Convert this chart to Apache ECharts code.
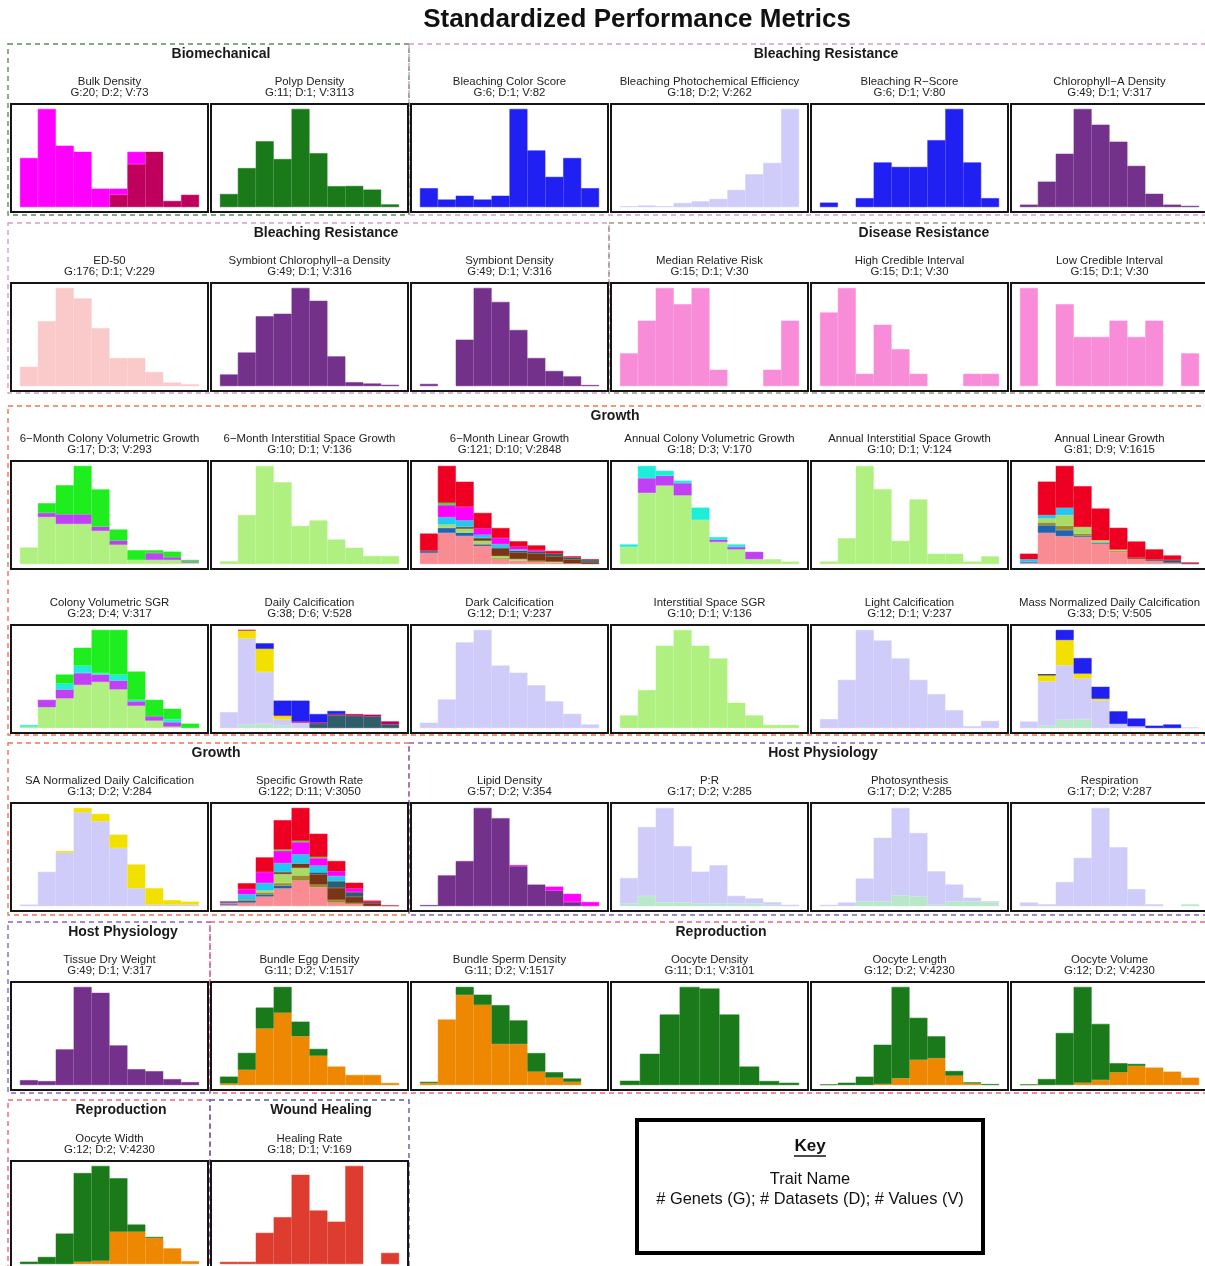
<!DOCTYPE html>
<html>
<head>
<meta charset="utf-8">
<title>Standardized Performance Metrics</title>
<script src="https://cdn.jsdelivr.net/npm/echarts@6/dist/echarts.min.js"></script>
<style>
  html, body { margin: 0; padding: 0; background: #ffffff; }
  #main { width: 1205px; height: 1266px; }
</style>
</head>
<body>
<div id="main"></div>
<script>
// ---------------------------------------------------------------------------
// Histogram counts per bin. Each trait lists its dataset layers bottom-first;
// the layer key names the fill colour used for that dataset.
// ---------------------------------------------------------------------------
const bulkDensity = { crimson: [0,0,0,0,0,2,7,9,1,2], magenta: [8,16,10,9,3,1,2,0,0,0] };
const polypDensity = { forest: [107,319,539,393,803,440,171,173,143,22] };
const bleachingColorScore = { blue: [5,2,3,2,3,26,15,8,13,5] };
const bleachingPhotochem = { lavender: [1,2,1,5,7,10,21,40,54,120] };
const bleachingRScore = { blue: [1,0,2,10,9,9,15,22,10,2] };
const chlorophyllA = { purple: [2,21,44,81,68,54,34,11,2,1] };

const ed50 = { blush: [11,37,56,50,33,16,16,8,2,1] };
const symbiontChlA = { purple: [9,26,54,56,76,66,23,3,2,1] };
const symbiontDensity = { purple: [2,0,43,91,78,52,26,14,9,1] };
const medianRelativeRisk = { pink: [2,4,6,5,6,1,0,0,1,4] };
const highCredible = { pink: [6,8,1,5,3,1,0,0,1,1] };
const lowCredible = { pink: [6,0,5,3,3,4,3,4,0,2] };

const sixMonthColonyVol = {
  lightGreen: [12,34,29,29,24,14,3,3,3,1],
  violet:     [0,3,7,7,3,3,0,5,2,1],
  green:      [0,7,21,35,27,8,7,2,4,1]
};
const sixMonthInterstitial = { lightGreen: [1,18,36,30,14,16,9,6,3,3] };
const sixMonthLinear = {
  salmon:  [88,242,218,140,36,26,16,10,5,0],
  navy:    [8,39,26,10,0,0,0,0,0,0],
  olive:   [0,0,0,10,10,0,10,0,0,0],
  yellowGreen: [0,26,31,21,16,13,0,8,0,0],
  brown:   [0,0,13,21,57,52,57,42,31,16],
  slate:   [8,0,0,0,10,13,16,21,16,16],
  cyan:    [0,57,52,26,26,10,0,0,0,0],
  magenta: [0,94,104,47,47,21,10,0,0,0],
  green:   [0,18,0,0,0,0,0,0,0,0],
  red:     [133,286,195,122,78,42,36,21,8,5]
};
const annualColonyVol = {
  lightGreen: [7,29,32,28,18,9,6,2,2,1],
  violet:     [0,6,4,5,0,1,1,3,0,0],
  turquoise:  [1,5,2,1,5,1,1,0,0,0]
};
const annualInterstitial = { lightGreen: [1,10,38,29,9,25,4,4,1,3] };
const annualLinear = {
  salmon: [5,123,110,107,81,48,21,13,5,0],
  navy:   [3,30,24,4,4,0,0,0,0,0],
  olive:  [0,11,17,9,0,4,0,0,0,0],
  yellowGreen: [0,16,42,26,9,5,0,0,0,0],
  brown:  [0,0,0,0,0,0,5,0,0,0],
  slate:  [0,0,0,0,0,0,0,5,11,3],
  cyan:   [11,13,29,0,0,0,0,0,0,0],
  red:    [22,132,165,161,125,86,63,40,18,3]
};

const colonyVolSGR = {
  lightGreen: [1,14,20,29,31,26,15,5,1,0],
  violet:     [0,5,6,8,5,6,3,3,3,0],
  turquoise:  [1,0,4,5,1,4,1,0,2,0],
  green:      [0,0,6,12,29,30,19,11,7,3]
};
const dailyCalcification = {
  mint:     [0,6,7,4,0,0,0,0,0,0],
  lavender: [26,141,85,10,9,0,0,0,0,0],
  slate:    [0,0,0,0,0,7,21,20,19,6],
  yellow:   [0,13,38,6,0,0,0,0,0,0],
  crimson:  [0,1,0,1,2,2,2,3,3,5],
  blue:     [0,0,9,24,34,14,5,0,0,0]
};
const darkCalcification = { lavender: [3,16,48,55,35,31,24,15,8,2] };
const interstitialSGR = { lightGreen: [4,12,26,31,26,22,8,4,1,1] };
const lightCalcification = { lavender: [5,27,55,49,39,27,19,10,1,4] };
const massNormCalcification = {
  mint:     [0,4,14,15,0,0,0,0,0,0],
  lavender: [11,74,91,68,46,7,3,0,0,1],
  yellow:   [0,10,42,8,3,0,0,0,0,0],
  ink:      [0,2,0,0,0,0,0,0,0,0],
  blue:     [0,0,17,26,20,21,13,4,6,0]
};

const saNormCalcification = {
  lavender: [1,23,36,63,57,39,12,1,1,1],
  yellow:   [0,0,1,3,5,9,16,11,3,2]
};
const specificGrowthRate = {
  salmon:  [10,26,72,133,192,141,26,13,0,0],
  navy:    [5,15,15,20,0,0,0,0,0,0],
  olive:   [0,10,15,20,38,20,20,10,0,0],
  yellowGreen: [0,0,15,67,56,0,0,0,0,0],
  brown:   [0,0,0,15,33,77,90,46,20,0],
  slate:   [0,0,0,0,0,15,51,36,5,0],
  cyan:    [10,38,56,67,69,51,38,0,0,0],
  magenta: [0,38,82,92,92,56,36,26,0,0],
  green:   [0,0,0,10,10,8,0,0,0,0],
  crimson: [0,0,0,0,0,0,0,0,8,0],
  red:     [10,44,110,220,246,174,77,44,8,5]
};
const lipidDensity = {
  purple:  [1,30,44,96,86,39,21,15,4,0],
  magenta: [0,0,0,0,0,1,0,4,8,4]
};
const pToR = {
  mint:     [2,8,3,3,2,2,2,2,1,0],
  lavender: [20,54,74,44,25,30,6,4,2,1]
};
const photosynthesis = {
  mint:     [0,0,4,4,9,8,1,4,4,3],
  lavender: [1,3,19,53,73,53,28,14,3,1]
};
const respiration = {
  mint:     [0,0,0,0,0,0,0,0,0,2],
  lavender: [4,2,27,54,110,66,19,2,0,0]
};

const tissueDryWeight = { purple: [5,4,36,99,93,40,16,14,6,3] };
const bundleEggDensity = {
  orange: [7,65,241,308,208,125,79,43,43,9],
  forest: [29,72,89,110,62,29,0,0,0,0]
};
const bundleSpermDensity = {
  orange: [7,219,301,268,137,137,45,25,11,0],
  forest: [4,0,27,34,130,79,62,18,11,0]
};
const oocyteDensity = { forest: [34,245,552,768,755,552,145,32,18] };
const oocyteLength = {
  orange: [0,0,0,15,100,375,400,140,25,0],
  forest: [10,35,125,585,1360,625,325,70,15,15]
};
const oocyteVolume = {
  orange: [0,0,0,35,75,190,285,260,200,110],
  forest: [10,90,775,1425,835,135,30,0,0,0]
};
const oocyteWidth = {
  orange: [0,0,0,25,35,340,340,275,165,30],
  forest: [25,75,320,930,995,560,75,10,0,0]
};
const healingRate = { brick: [1,1,14,21,40,24,19,44,0,5] };

// Trait names with genet / dataset / value counts, laid out row by row.
const traitRows = [
  [['Bulk Density', [20,2,73], bulkDensity],
   ['Polyp Density', [11,1,3113], polypDensity],
   ['Bleaching Color Score', [6,1,82], bleachingColorScore],
   ['Bleaching Photochemical Efficiency', [18,2,262], bleachingPhotochem],
   ['Bleaching R\u2212Score', [6,1,80], bleachingRScore],
   ['Chlorophyll\u2212A Density', [49,1,317], chlorophyllA]],
  [['ED-50', [176,1,229], ed50],
   ['Symbiont Chlorophyll\u2212a Density', [49,1,316], symbiontChlA],
   ['Symbiont Density', [49,1,316], symbiontDensity],
   ['Median Relative Risk', [15,1,30], medianRelativeRisk],
   ['High Credible Interval', [15,1,30], highCredible],
   ['Low Credible Interval', [15,1,30], lowCredible]],
  [['6\u2212Month Colony Volumetric Growth', [17,3,293], sixMonthColonyVol],
   ['6\u2212Month Interstitial Space Growth', [10,1,136], sixMonthInterstitial],
   ['6\u2212Month Linear Growth', [121,10,2848], sixMonthLinear],
   ['Annual Colony Volumetric Growth', [18,3,170], annualColonyVol],
   ['Annual Interstitial Space Growth', [10,1,124], annualInterstitial],
   ['Annual Linear Growth', [81,9,1615], annualLinear]],
  [['Colony Volumetric SGR', [23,4,317], colonyVolSGR],
   ['Daily Calcification', [38,6,528], dailyCalcification],
   ['Dark Calcification', [12,1,237], darkCalcification],
   ['Interstitial Space SGR', [10,1,136], interstitialSGR],
   ['Light Calcification', [12,1,237], lightCalcification],
   ['Mass Normalized Daily Calcification', [33,5,505], massNormCalcification]],
  [['SA Normalized Daily Calcification', [13,2,284], saNormCalcification],
   ['Specific Growth Rate', [122,11,3050], specificGrowthRate],
   ['Lipid Density', [57,2,354], lipidDensity],
   ['P:R', [17,2,285], pToR],
   ['Photosynthesis', [17,2,285], photosynthesis],
   ['Respiration', [17,2,287], respiration]],
  [['Tissue Dry Weight', [49,1,317], tissueDryWeight],
   ['Bundle Egg Density', [11,2,1517], bundleEggDensity],
   ['Bundle Sperm Density', [11,2,1517], bundleSpermDensity],
   ['Oocyte Density', [11,1,3101], oocyteDensity],
   ['Oocyte Length', [12,2,4230], oocyteLength],
   ['Oocyte Volume', [12,2,4230], oocyteVolume]],
  [['Oocyte Width', [12,2,4230], oocyteWidth],
   ['Healing Rate', [18,1,169], healingRate]]
];

// Trait category headings, in frame order.
const categoryNames = ['Biomechanical','Bleaching Resistance','Bleaching Resistance','Disease Resistance',
  'Growth','Growth','Host Physiology','Host Physiology','Reproduction','Reproduction','Wound Healing'];

// ---------------------------------------------------------------------------
// Styling and layout
// ---------------------------------------------------------------------------
const PALETTE = {
  magenta: '#FF00FF', crimson: '#BF005C', forest: '#1A7A1A', blue: '#2020F2',
  lavender: '#CFCCFA', purple: '#74318C', blush: '#FAC9C9', pink: '#F98CD8',
  lightGreen: '#B0F080', violet: '#C040F5', green: '#1EEE1E', turquoise: '#1EEED8',
  salmon: '#F88C92', navy: '#1E64B4', olive: '#9C8C2C', yellowGreen: '#A8DC66',
  brown: '#7A3514', slate: '#2F5E6A', cyan: '#22C8F0', red: '#EE0022',
  yellow: '#F2E000', mint: '#B8E8C8', ink: '#202040', orange: '#EE8800', brick: '#DD3C2E'
};

const FONT = '"Liberation Sans", Arial, Helvetica, sans-serif';
const BOX_X0 = 11, COL_STEP = 200, BOX_W = 197, BOX_H = 108;
const ROW_TOP = [104, 283, 461, 625, 803, 982, 1161];

// frame geometry for each category (x0, x1, y0, y1, stroke colour, heading centre)
const categoryFrames = [
  [8, 409, 44, 215, '#5A8F5A', 221],
  [409, 1240, 44, 215, '#D89CC6', 826],
  [8, 609, 223, 393, '#D89CC6', 326],
  [609, 1240, 223, 393, '#9A9A86', 924],
  [8, 1240, 406, 735, '#F07452', 615],
  [8, 409, 743, 915, '#F07452', 216],
  [409, 1240, 743, 915, '#8466C2', 823],
  [8, 210, 922, 1093, '#8466C2', 123],
  [210, 1240, 922, 1093, '#EA6680', 721],
  [8, 210, 1100, 1280, '#EA6680', 121],
  [210, 409, 1100, 1280, '#5C58AA', 321]
];

const grids = [], xAxes = [], yAxes = [], series = [], graphics = [];

// dashed category frames and their headings
categoryFrames.forEach(([x0, x1, y0, y1, stroke, lx], i) => {
  graphics.push({
    type: 'rect', silent: true, z: 1,
    shape: { x: x0, y: y0, width: x1 - x0, height: y1 - y0 },
    style: { fill: 'none', stroke: stroke, lineWidth: 1.4, lineDash: [5, 4] }
  });
  graphics.push({
    type: 'text', silent: true, z: 5,
    style: { text: categoryNames[i], x: lx, y: y0 + 10, textAlign: 'center', textVerticalAlign: 'middle',
             font: 'bold 14px ' + FONT, fill: '#1a1a1a' }
  });
});

let gi = 0;
traitRows.forEach((row, r) => {
  row.forEach(([name, counts, layers], c) => {
    const bx = BOX_X0 + c * COL_STEP;
    const by = ROW_TOP[r];
    const keys = Object.keys(layers);
    const nBins = layers[keys[0]].length;
    const totals = [];
    for (let k = 0; k < nBins; k++) totals.push(keys.reduce((s, key) => s + layers[key][k], 0));
    const ymax = Math.max(...totals);
    // 5% expansion of the data range on every side inside the frame
    const padX = BOX_W / 22, padY = BOX_H / 22;

    grids.push({ left: bx + padX, top: by + padY, width: BOX_W - 2 * padX, height: BOX_H - 2 * padY });
    xAxes.push({ type: 'category', gridIndex: gi, data: totals.map((_, k) => k), show: false, boundaryGap: true });
    yAxes.push({ type: 'value', gridIndex: gi, min: 0, max: ymax, show: false });

    keys.forEach(key => {
      const col = PALETTE[key];
      series.push({
        type: 'bar', name: name + ' ' + key, xAxisIndex: gi, yAxisIndex: gi, stack: 'trait' + gi,
        data: layers[key].map(v => (v === 0 ? '-' : v)),
        barWidth: '100%', barCategoryGap: '0%', silent: true,
        itemStyle: { color: col, borderColor: col, borderWidth: 0.5 }
      });
    });

    graphics.push({
      type: 'rect', silent: true, z: 10,
      shape: { x: bx, y: by, width: BOX_W, height: BOX_H },
      style: { fill: 'none', stroke: '#151515', lineWidth: 2 }
    });
    graphics.push({
      type: 'text', silent: true, z: 10,
      style: { text: name, x: bx + BOX_W / 2, y: by - 22, textAlign: 'center', textVerticalAlign: 'middle',
               font: '11.4px ' + FONT, fill: '#222' }
    });
    graphics.push({
      type: 'text', silent: true, z: 10,
      style: { text: 'G:' + counts[0] + '; D:' + counts[1] + '; V:' + counts[2],
               x: bx + BOX_W / 2, y: by - 11, textAlign: 'center', textVerticalAlign: 'middle',
               font: '11.4px ' + FONT, fill: '#222' }
    });
    gi++;
  });
});

// key box
graphics.push({
  type: 'rect', silent: true, z: 10,
  shape: { x: 637, y: 1120, width: 346, height: 133 },
  style: { fill: '#fff', stroke: '#000', lineWidth: 4 }
});
graphics.push({
  type: 'text', silent: true, z: 11,
  style: { text: 'Key', x: 810, y: 1146, textAlign: 'center', textVerticalAlign: 'middle',
           font: 'bold 17px ' + FONT, fill: '#111' }
});
graphics.push({
  type: 'line', silent: true, z: 11,
  shape: { x1: 794, y1: 1156, x2: 826, y2: 1156 },
  style: { stroke: '#111', lineWidth: 1.5 }
});
graphics.push({
  type: 'text', silent: true, z: 11,
  style: { text: 'Trait Name', x: 810, y: 1179, textAlign: 'center', textVerticalAlign: 'middle',
           font: '16.4px ' + FONT, fill: '#111' }
});
graphics.push({
  type: 'text', silent: true, z: 11,
  style: { text: '# Genets (G); # Datasets (D); # Values (V)', x: 810, y: 1199, textAlign: 'center',
           textVerticalAlign: 'middle', font: '16.4px ' + FONT, fill: '#111' }
});

// main heading, centred over the full figure width
graphics.push({
  type: 'text', silent: true, z: 11,
  style: { text: 'Standardized Performance Metrics', x: 637, y: 20, textAlign: 'center',
           textVerticalAlign: 'middle', font: 'bold 26px ' + FONT, fill: '#111' }
});

const chart = echarts.init(document.getElementById('main'), null, { renderer: 'canvas' });
chart.setOption({
  animation: false,
  backgroundColor: '#ffffff',
  grid: grids,
  xAxis: xAxes,
  yAxis: yAxes,
  series: series,
  graphic: graphics
});
</script>
</body>
</html>
